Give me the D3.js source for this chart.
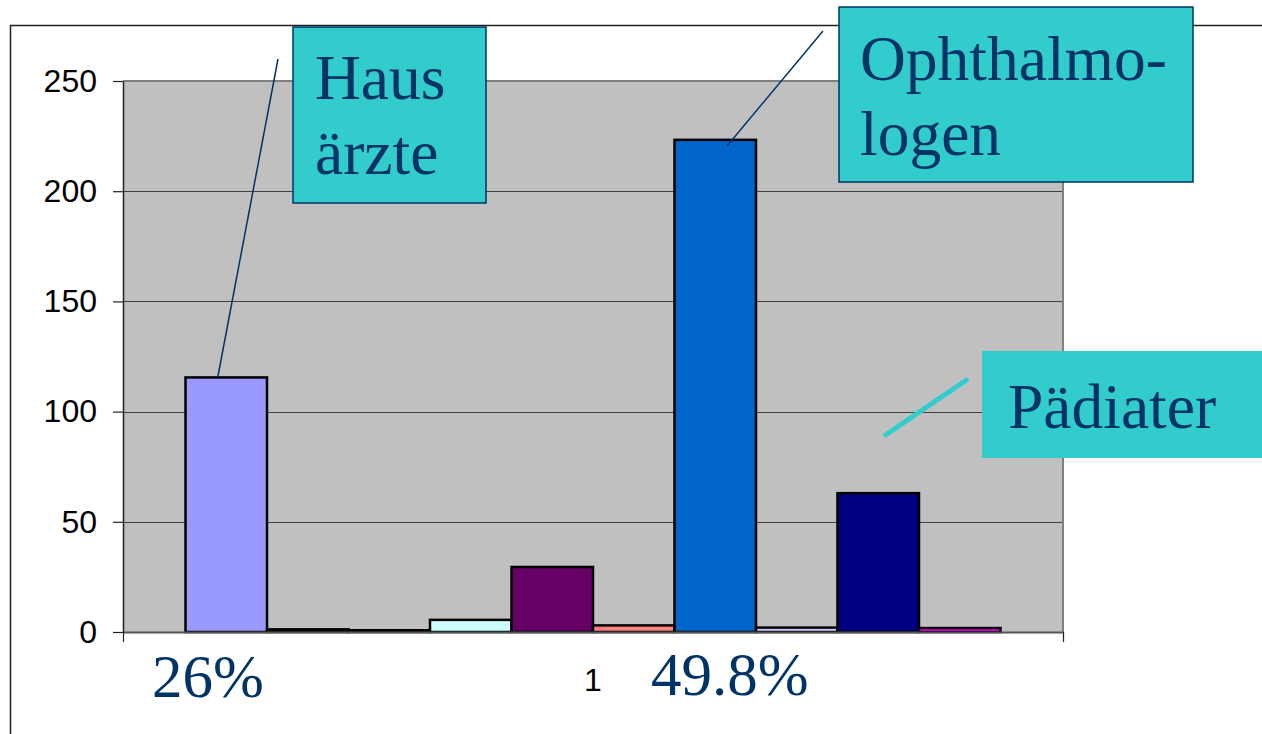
<!DOCTYPE html>
<html>
<head>
<meta charset="utf-8">
<script src="https://cdn.jsdelivr.net/npm/d3@7"></script>
<style>
  body { margin: 0; background: #fff; }
  svg { display: block; }
</style>
</head>
<body>
<div id="chart"></div>
<script>
// data
var categories = ["1"];
var series = ["s1", "s2", "s3", "s4", "s5", "s6", "s7", "s8", "s9", "s10"];
var values = [115.5, 1.2, 0.8, 5.5, 29.5, 3, 223.3, 2, 63, 1.8];
var yTicks = [0, 50, 100, 150, 200, 250];
var colors = ["#9999FF", "#993366", "#FFFFCC", "#CCFFFF", "#660066", "#FF8080", "#0066CC", "#CCCCFF", "#000080", "#FF00FF"];

// callouts
var callouts = [
  {lines: ["Haus", "ärzte"], box: [293, 27, 193, 176], tx: 315, ty: 99, border: true},
  {lines: ["Ophthalmo-", "logen"], box: [839, 7, 354, 175], tx: 860, ty: 80, border: true},
  {lines: ["Pädiater"], box: [982, 351, 280, 107], tx: 1008, ty: 428, border: false}
];
var leaders = [
  {x1: 278, y1: 59, x2: 218, y2: 376, color: "#003366", w: 1.5},
  {x1: 823, y1: 31, x2: 727, y2: 146, color: "#003366", w: 1.5},
  {x1: 968, y1: 379, x2: 884, y2: 436, color: "#33CCCC", w: 5}
];
var pctLabels = [{text: "26%", x: 152, y: 697}, {text: "49.8%", x: 651, y: 695}];

var W = 1262, H = 734;
var plot = {left: 123, right: 1063, top: 81, bottom: 632};

var svg = d3.select("#chart").append("svg")
  .attr("width", W).attr("height", H);

// outer chart frame
svg.append("line").attr("x1", 10).attr("y1", 25.5).attr("x2", W).attr("y2", 25.5)
  .attr("stroke", "#222").attr("stroke-width", 1.5);
svg.append("line").attr("x1", 10.5).attr("y1", 25).attr("x2", 10.5).attr("y2", H)
  .attr("stroke", "#222").attr("stroke-width", 1.5);

// scales
var y = d3.scaleLinear().domain([0, 250]).range([plot.bottom, plot.top]);
var x0 = d3.scaleBand().domain(categories).range([plot.left, plot.right])
  .paddingInner(0).paddingOuter(0.0767);
var x1 = d3.scaleBand().domain(series).range([0, x0.bandwidth()]);

// plot area
svg.append("rect").attr("x", plot.left).attr("y", plot.top)
  .attr("width", plot.right - plot.left).attr("height", plot.bottom - plot.top)
  .attr("fill", "#C0C0C0");

// gridlines
svg.append("g").selectAll("line")
  .data(yTicks.filter(function(d){ return d > 0 && d < 250; }))
  .enter().append("line")
  .attr("x1", plot.left).attr("x2", plot.right)
  .attr("y1", function(d){ return Math.round(y(d)) + 0.5; })
  .attr("y2", function(d){ return Math.round(y(d)) + 0.5; })
  .attr("stroke", "#404040").attr("stroke-width", 1);

// plot border top / right
svg.append("path")
  .attr("d", "M" + plot.left + "," + plot.top + "H" + plot.right + "V" + plot.bottom)
  .attr("fill", "none").attr("stroke", "#808080").attr("stroke-width", 2);

// bars
var data = series.map(function(s, i){ return {key: s, value: values[i], cat: categories[0]}; });
svg.append("g").selectAll("rect")
  .data(data).enter().append("rect")
  .attr("x", function(d){ return x0(d.cat) + x1(d.key); })
  .attr("y", function(d){ return y(d.value); })
  .attr("width", x1.bandwidth())
  .attr("height", function(d){ return y(0) - y(d.value); })
  .attr("fill", function(d, i){ return colors[i]; })
  .attr("stroke", "#000").attr("stroke-width", 2.5);

// y axis
var yAxis = svg.append("g").attr("transform", "translate(" + plot.left + ",0)")
  .call(d3.axisLeft(y).tickValues(yTicks).tickSize(10).tickPadding(16).tickSizeOuter(0));
yAxis.select(".domain").attr("stroke", "#222").attr("stroke-width", 1.5);
yAxis.selectAll(".tick line").attr("stroke", "#222").attr("stroke-width", 1.2);
yAxis.selectAll("text").attr("font-family", "Arial, 'Liberation Sans', sans-serif")
  .attr("font-size", 32).attr("fill", "#000");

// x axis
var xAxis = svg.append("g").attr("transform", "translate(0," + plot.bottom + ")")
  .call(d3.axisBottom(x0).tickSize(0).tickPadding(36).tickSizeOuter(0));
xAxis.select(".domain").attr("stroke", "#555").attr("stroke-width", 2);
xAxis.selectAll("text").attr("font-family", "Arial, 'Liberation Sans', sans-serif")
  .attr("font-size", 32).attr("fill", "#000");
xAxis.selectAll("line.edge").data(x0.range()).enter().append("line")
  .attr("class", "edge")
  .attr("x1", function(d){ return d + 0.5; }).attr("x2", function(d){ return d + 0.5; })
  .attr("y1", 0).attr("y2", 10).attr("stroke", "#222").attr("stroke-width", 1.2);

// percent labels
svg.append("g").selectAll("text").data(pctLabels).enter().append("text")
  .attr("x", function(d){ return d.x; }).attr("y", function(d){ return d.y; })
  .attr("font-family", "'Times New Roman', 'Liberation Serif', serif")
  .attr("font-size", 61).attr("fill", "#003366")
  .text(function(d){ return d.text; });

// leader lines
svg.append("g").selectAll("line").data(leaders).enter().append("line")
  .attr("x1", function(d){ return d.x1; }).attr("y1", function(d){ return d.y1; })
  .attr("x2", function(d){ return d.x2; }).attr("y2", function(d){ return d.y2; })
  .attr("stroke", function(d){ return d.color; })
  .attr("stroke-width", function(d){ return d.w; });

// callout boxes
var cg = svg.append("g").selectAll("g").data(callouts).enter().append("g");
cg.append("rect")
  .attr("x", function(d){ return d.box[0]; }).attr("y", function(d){ return d.box[1]; })
  .attr("width", function(d){ return d.box[2]; }).attr("height", function(d){ return d.box[3]; })
  .attr("fill", "#33CCCC")
  .attr("stroke", function(d){ return d.border ? "#003366" : "none"; })
  .attr("stroke-width", 1.5);
cg.each(function(d){
  var t = d3.select(this).append("text")
    .attr("font-family", "'Times New Roman', 'Liberation Serif', serif")
    .attr("font-size", 63.5).attr("fill", "#003366");
  d.lines.forEach(function(l, i){
    t.append("tspan").attr("x", d.tx).attr("y", d.ty + i * 75).text(l);
  });
});
</script>
</body>
</html>
